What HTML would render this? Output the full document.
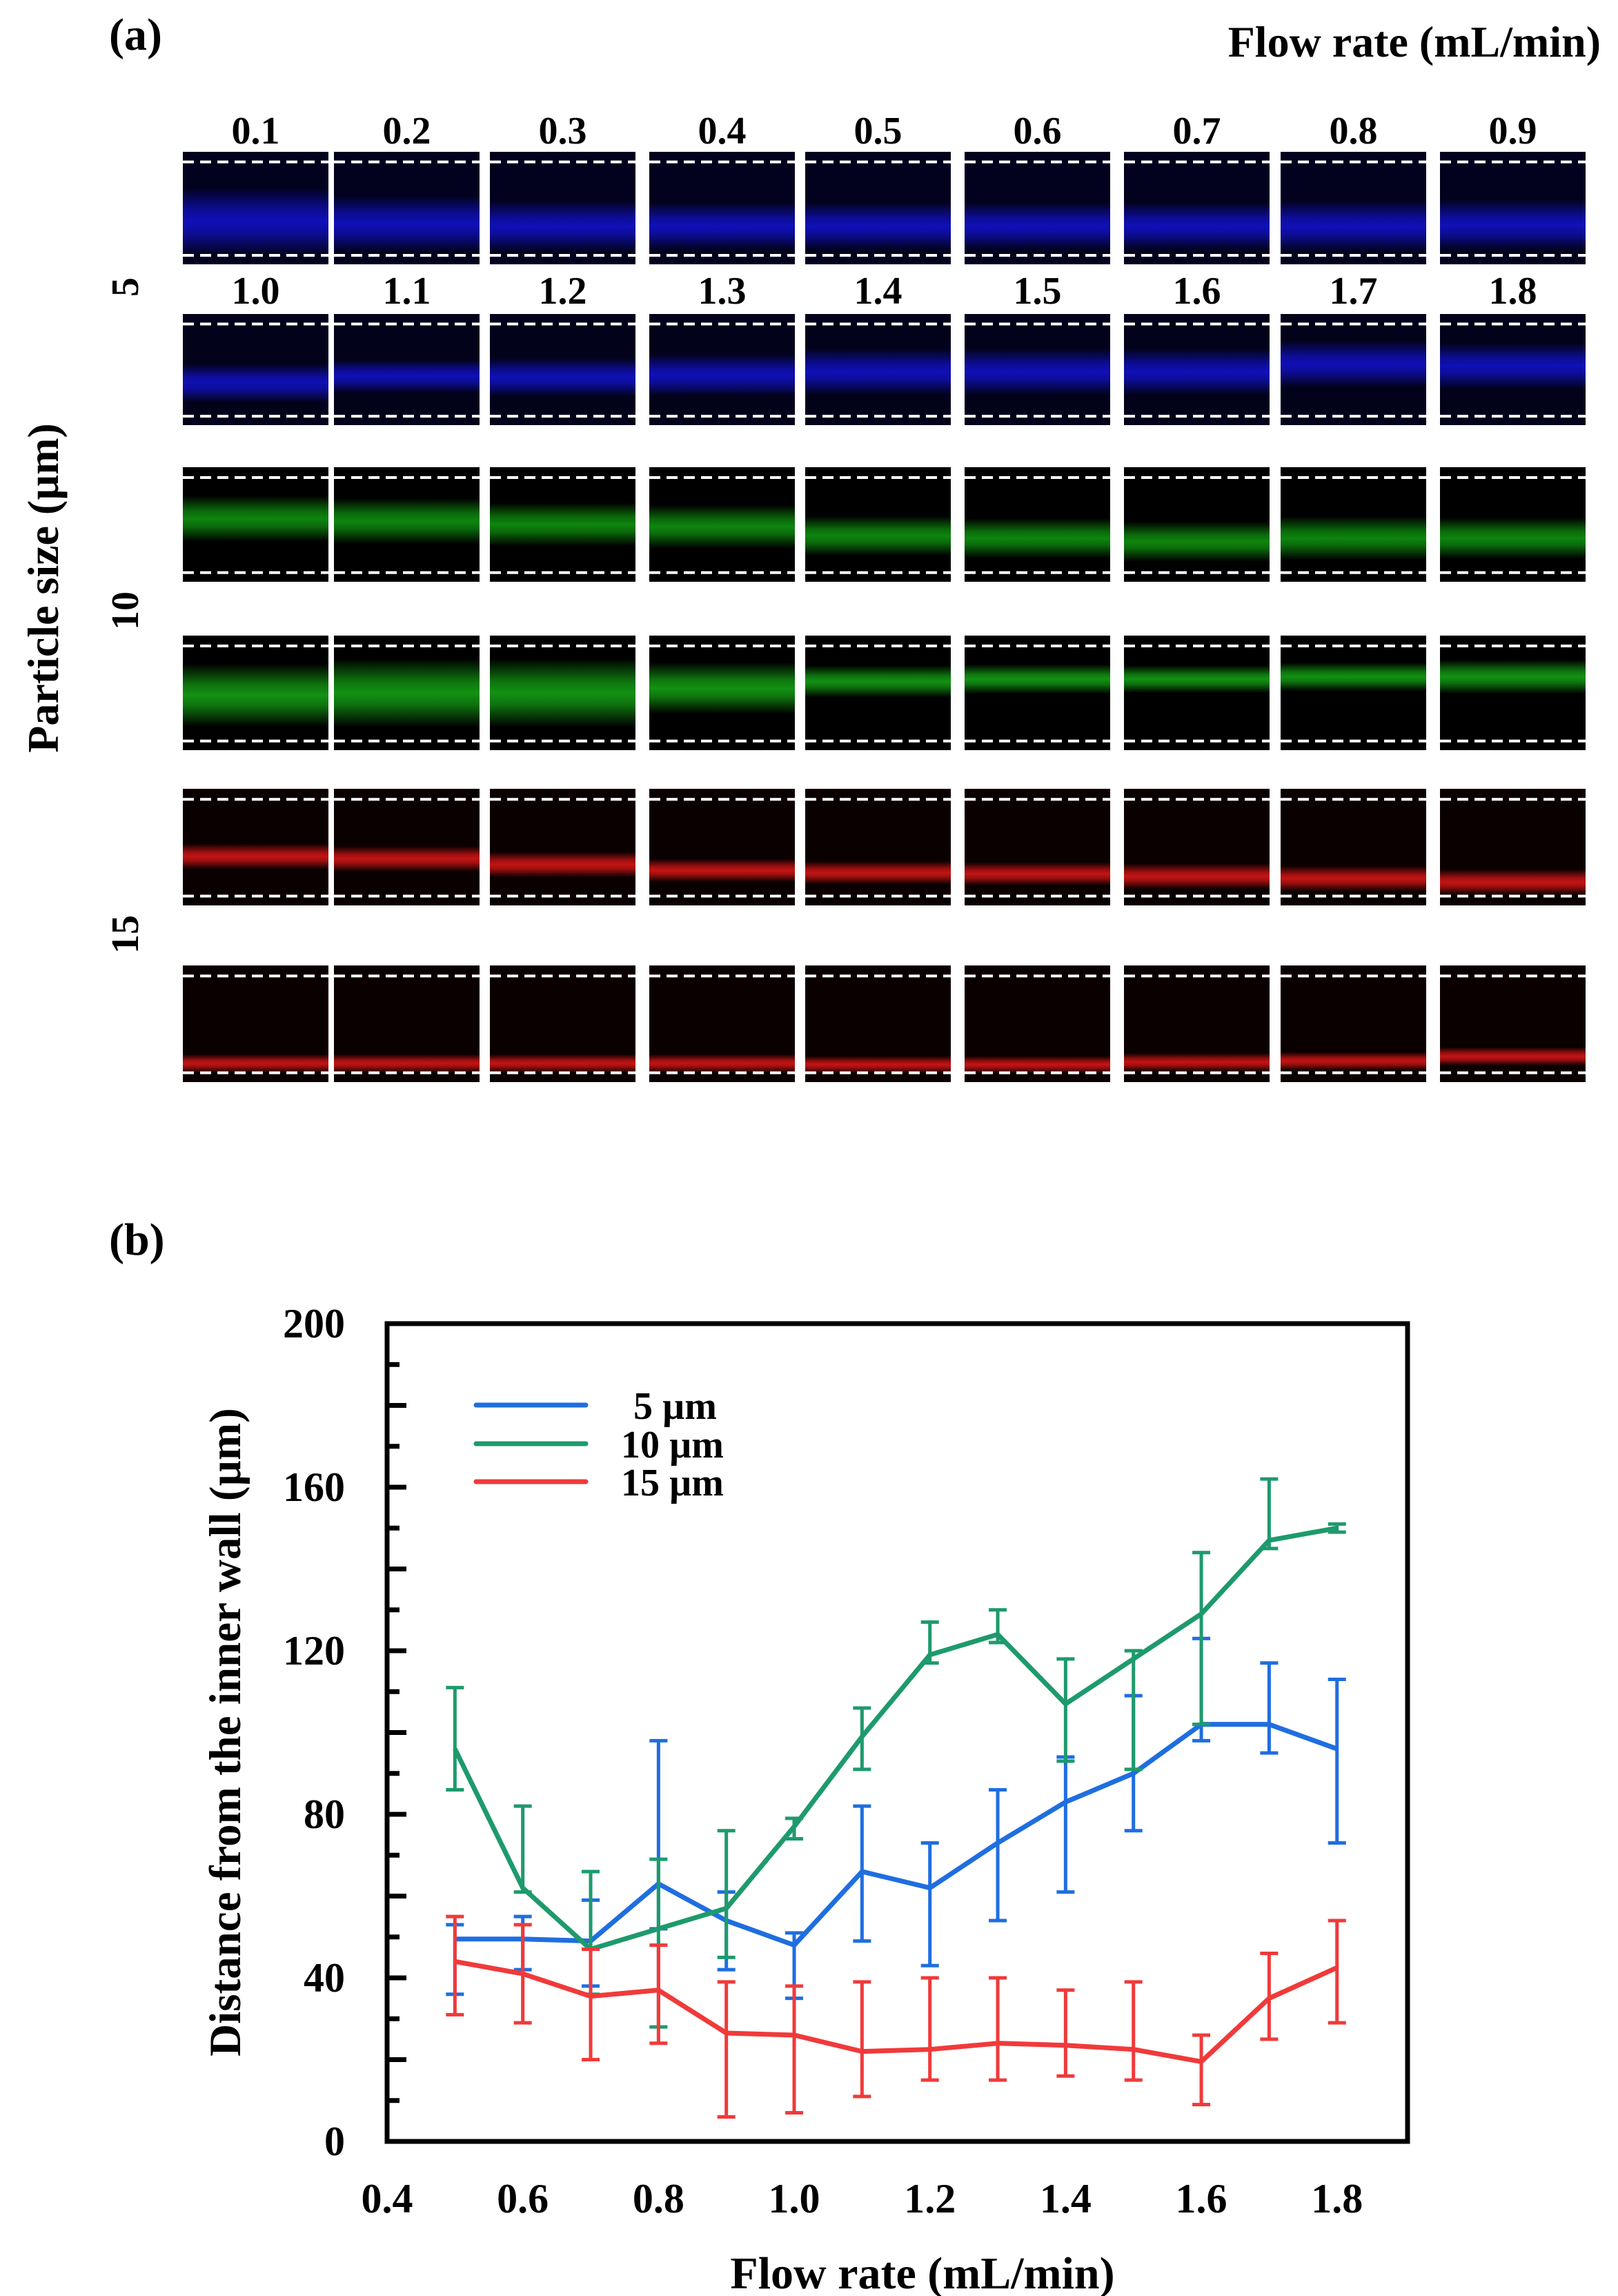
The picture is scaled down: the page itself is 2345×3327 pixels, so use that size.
<!DOCTYPE html>
<html><head><meta charset="utf-8"><style>
html,body{margin:0;padding:0;background:#fff}
svg{display:block}
text{font-family:"Liberation Serif",serif;font-weight:bold;fill:#000}
</style></head><body>
<svg id="fig" width="2345" height="3327" viewBox="0 0 2345 3327" xmlns="http://www.w3.org/2000/svg">
<defs id="defs"></defs>
<text x="158" y="72" font-size="66">(a)</text>
<text x="2320" y="82" font-size="64" text-anchor="end">Flow rate (mL/min)</text>
<text transform="translate(84,852) rotate(-90)" font-size="64" text-anchor="middle">Particle size (µm)</text>
<text transform="translate(200,416) rotate(-90)" font-size="56" text-anchor="middle">5</text>
<text transform="translate(200,885) rotate(-90)" font-size="56" text-anchor="middle">10</text>
<text transform="translate(200,1354) rotate(-90)" font-size="56" text-anchor="middle">15</text>
<g id="panels"></g>

<text x="158" y="1818" font-size="66">(b)</text>
<g id="chart"></g>
</svg>
<script>
// ---- panel (a) data ----
const rateLabelsRow1 = ["0.1","0.2","0.3","0.4","0.5","0.6","0.7","0.8","0.9"];
const rateLabelsRow2 = ["1.0","1.1","1.2","1.3","1.4","1.5","1.6","1.7","1.8"];
const bandCenters = [
 [0.62,0.64,0.66,0.66,0.66,0.66,0.66,0.66,0.65],
 [0.62,0.56,0.57,0.55,0.52,0.52,0.52,0.45,0.47],
 [0.45,0.47,0.50,0.52,0.60,0.62,0.65,0.62,0.62],
 [0.52,0.50,0.50,0.46,0.40,0.38,0.38,0.36,0.36],
 [0.58,0.60,0.65,0.70,0.72,0.73,0.75,0.77,0.80],
 [0.84,0.84,0.84,0.84,0.85,0.85,0.83,0.82,0.78]];
const bandWidths = [
 [0.60,0.50,0.45,0.42,0.42,0.42,0.42,0.45,0.45],
 [0.35,0.30,0.35,0.38,0.42,0.42,0.42,0.42,0.42],
 [0.40,0.40,0.38,0.38,0.35,0.35,0.35,0.38,0.36],
 [0.55,0.60,0.60,0.45,0.28,0.26,0.24,0.25,0.30],
 [0.22,0.22,0.22,0.20,0.20,0.20,0.22,0.22,0.22],
 [0.16,0.16,0.16,0.16,0.15,0.15,0.16,0.16,0.16]];
const rowColors = ["#1414e8","#1414e8","#12b012","#18c018","#ff1a1a","#ff1a1a"];
const rowBase = ["#02021e","#02021a","#000","#000","#0a0000","#0a0000"];
const rowTops = [220,455,677,921,1143,1399];
const rowHeights = [163,161,166,166,169,169];
const colX = [265,484,710,941,1167,1398,1629,1856,2087];
const colW = 211;
const NS="http://www.w3.org/2000/svg";
const defs=document.getElementById('defs');
const panels=document.getElementById('panels');
function mk(tag,attrs,parent){const e=document.createElementNS(NS,tag);for(const k in attrs)e.setAttribute(k,attrs[k]);parent.appendChild(e);return e;}
rowTops.forEach((ty,r)=>{
  colX.forEach((cx,c)=>{
    const id='g'+r+'_'+c, cen=bandCenters[r][c], w=bandWidths[r][c];
    const g=mk('linearGradient',{id:id,x1:0,y1:0,x2:0,y2:1},defs);
    const stops=[[0,0],[Math.max(0,cen-w/2),0],[cen-w/6,0.75],[cen,0.95],[cen+w/6,0.75],[Math.min(1,cen+w/2),0],[1,0]];
    stops.forEach(s=>mk('stop',{offset:s[0],'stop-color':rowColors[r],'stop-opacity':s[1]*0.8},g));
    const h=rowHeights[r];
    const bg=mk('rect',{x:cx,y:ty,width:colW,height:h,fill:rowBase[r]},panels);
    
    
    const band=mk('rect',{x:cx,y:ty,width:colW,height:h,fill:'url(#'+id+')'},panels);
    
    
    [ty+h*0.09,ty+h*0.92].forEach(yy=>{
      const l=mk('line',{x1:cx,x2:cx+colW,y1:yy,y2:yy,stroke:'#fff','stroke-width':4,'stroke-dasharray':'16,9'},panels);
      
      
    });
  });
});
[[rateLabelsRow1,208],[rateLabelsRow2,440]].forEach(([labs,yy])=>{
  labs.forEach((t,i)=>{
    const e=mk('text',{x:colX[i]+colW/2,y:yy,'font-size':56,'text-anchor':'middle'},panels);
    e.textContent=t;
    
    
  });
});

// ---- panel (b) data ----
const flowRates = [0.5,0.6,0.7,0.8,0.9,1.0,1.1,1.2,1.3,1.4,1.5,1.6,1.7,1.8];
const mean5 = [49.5,49.5,49,63,54,48,66,62,73,83,90,102,102,96];
const hi5 = [53,55,59,98,61,51,82,73,86,94,109,123,117,113];
const lo5 = [36,42,38,52,42,35,49,43,54,61,76,98,95,73];
const mean10 = [96,62,47,52,57,77,99,119,124,107,118,129,147,150];
const hi10 = [111,82,66,69,76,79,106,127,130,118,120,144,162,151];
const lo10 = [86,61,36,28,45,74,91,117,122,93,91,102,145,149];
const mean15 = [44,41,35.5,37,26.5,26,22,22.5,24,23.5,22.5,19.5,35,42.5];
const hi15 = [55,53,47,48,39,38,39,40,40,37,39,26,46,54];
const lo15 = [31,29,20,24,6,7,11,15,15,16,15,9,25,29];
const xTicks = ["0.4","0.6","0.8","1.0","1.2","1.4","1.6","1.8"];
const yTicks = ["0","40","80","120","160","200"];
const seriesNames = ["5  µm","10 µm","15 µm"];

const L=561,R=2040,T=1918,B=3103;
const sx=v=>L+(v-0.4)/(1.904-0.4)*(R-L);
const sy=v=>B-(v/200)*(B-T);
const chart=document.getElementById('chart');
const series=[[mean5,hi5,lo5,'#1f6ee0'],[mean10,hi10,lo10,'#1e9a6c'],[mean15,hi15,lo15,'#f03a3a']];
series.forEach(([m,hi,lo,col],si)=>{
  flowRates.forEach((f,i)=>{
    const x=sx(f);
    const eb=mk('path',{d:`M${x},${sy(hi[i])}V${sy(lo[i])}M${x-13},${sy(hi[i])}H${x+13}M${x-13},${sy(lo[i])}H${x+13}`,stroke:col,'stroke-width':5,fill:'none'},chart);
    
    
  });
  const pl=mk('polyline',{points:flowRates.map((f,i)=>sx(f)+','+sy(m[i])).join(' '),stroke:col,'stroke-width':7,fill:'none','stroke-linejoin':'round'},chart);
  
  
  const ly=[2036,2092,2147][si];
  const ll=mk('line',{x1:690,x2:849,y1:ly,y2:ly,stroke:col,'stroke-width':7,'stroke-linecap':'round'},chart);
  
  
  const lt=mk('text',{x:[918,900,900][si],y:ly+20,'font-size':56,'xml:space':'preserve'},chart);
  lt.textContent=seriesNames[si];
  
  
});
const frame=mk('rect',{x:L,y:T,width:R-L,height:B-T,fill:'none',stroke:'#000','stroke-width':7},chart);


for(let v=10;v<200;v+=10){
  const tk=mk('line',{x1:L,x2:L+(v%20===0?28:18),y1:sy(v),y2:sy(v),stroke:'#000','stroke-width':7},chart);
  
  
}
yTicks.forEach(t=>{
  const e=mk('text',{x:500,y:sy(+t)+20,'font-size':60,'text-anchor':'end'},chart);
  e.textContent=t;
  
  
});
xTicks.forEach(t=>{
  const e=mk('text',{x:sx(+t),y:3206,'font-size':60,'text-anchor':'middle'},chart);
  e.textContent=t;
  
  
});
const xt=mk('text',{x:1337,y:3316,'font-size':66,'text-anchor':'middle'},chart);
xt.textContent='Flow rate (mL/min)';


const yt=mk('text',{transform:'translate(348,2510) rotate(-90)','font-size':65,'text-anchor':'middle'},chart);
yt.textContent='Distance from the inner wall (µm)';


</script>
</body></html>
